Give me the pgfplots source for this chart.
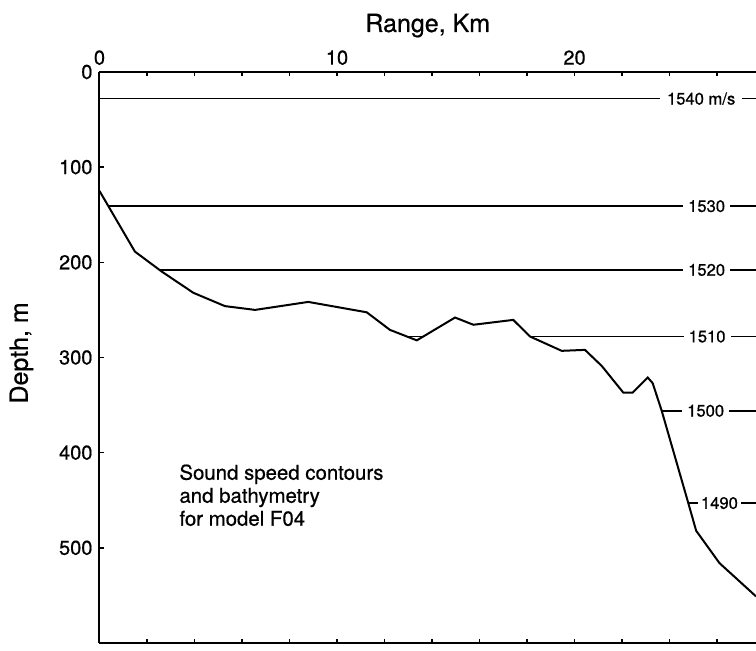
\documentclass[border=0pt]{standalone}
\usepackage{fontspec}
\setmainfont{TeX Gyre Heros}[FakeBold=0.6]
\usepackage{pgfplots}
\pgfplotsset{compat=1.18}
\begin{document}
\begin{tikzpicture}
\begin{axis}[
  at={(49.75pt,4pt)}, anchor=south west,
  scale only axis, width=328.25pt, height=285.5pt,
  xmin=0, xmax=27.64, ymin=0, ymax=600, y dir=reverse,
  axis x line*=box, axis y line*=left,
  axis line style={line width=1pt, black},
  xtick={0,2,...,26},
  xticklabels={0,,,,,10,,,,,20,,,},
  xticklabel pos=upper,
  ytick={0,100,...,500},
  tick align=inside,
  major tick length=2.2pt,
  tick style={line width=0.8pt, black},
  /pgf/number format/assume math mode=true,
  tick label style={font=\fontsize{10}{11}\selectfont},
  ylabel={Depth, m},
  ylabel style={at={(axis description cs:-0.119,0.508)}, anchor=center, font=\fontsize{12.5}{14}\selectfont},
  title={Range, Km},
  title style={at={(axis description cs:0.5,1)}, anchor=base, yshift=14pt, font=\fontsize{12.5}{14}\selectfont},
  clip=true,
]
% sound speed contours
\addplot[black, line width=0.8pt] coordinates {(0,28) (27.64,28)};
\addplot[black, line width=0.8pt] coordinates {(0.37,141) (27.64,141)};
\addplot[black, line width=0.8pt] coordinates {(2.53,208) (27.64,208)};
\addplot[black, line width=0.8pt] coordinates {(12.96,278) (13.63,278)};
\addplot[black, line width=0.8pt] coordinates {(18.13,278) (27.64,278)};
\addplot[black, line width=0.8pt] coordinates {(23.67,356) (27.64,356)};
\addplot[black, line width=0.8pt] coordinates {(24.79,453) (27.64,453)};
% bathymetry
\addplot[black, line width=1pt] coordinates {
(0,125) (1.49,188.7) (2.62,209.7) (3.95,232) (5.28,246) (6.55,250)
(8.79,241.6) (11.25,252.5) (12.23,271) (13.36,282) (14.97,258)
(15.74,265.6) (17.42,260.5) (18.13,278) (19.46,293) (20.44,292)
(21.15,309) (22.05,336.8) (22.45,336.8) (23.08,321) (23.29,327)
(23.67,356) (24.79,453) (25.12,482) (26.1,516) (27.64,551)};
% labels
\node[fill=white, inner xsep=3.4pt, inner ysep=1pt, font=\fontsize{8.3}{9}\selectfont] at (axis cs:25.33,28) {1540 m/s};
\node[fill=white, inner xsep=2.5pt, inner ysep=1pt, font=\fontsize{8.3}{9}\selectfont] at (axis cs:25.56,141) {1530};
\node[fill=white, inner xsep=2.5pt, inner ysep=1pt, font=\fontsize{8.3}{9}\selectfont] at (axis cs:25.56,208) {1520};
\node[fill=white, inner xsep=2.5pt, inner ysep=1pt, font=\fontsize{8.3}{9}\selectfont] at (axis cs:25.58,278) {1510};
\node[fill=white, inner xsep=2.5pt, inner ysep=1pt, font=\fontsize{8.3}{9}\selectfont] at (axis cs:25.52,356) {1500};
\node[fill=white, inner xsep=1.5pt, inner ysep=1pt, font=\fontsize{8.3}{9}\selectfont] at (axis cs:26.1,453) {1490};
\node[anchor=north west, align=left, inner sep=0pt, font=\fontsize{10.2}{11.5}\selectfont] at (axis cs:3.35,412) {Sound speed contours\\and bathymetry\\for model F04};
\end{axis}
\pgfresetboundingbox
\useasboundingbox (0,0) rectangle (378pt,325.5pt);
\end{tikzpicture}
\end{document}
